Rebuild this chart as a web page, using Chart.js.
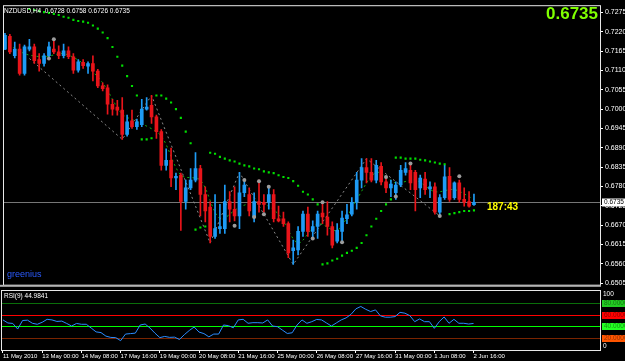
<!DOCTYPE html>
<html><head><meta charset="utf-8">
<script src="https://cdn.jsdelivr.net/npm/chart.js@4.4.1/dist/chart.umd.min.js"></script>
<style>
html,body{margin:0;padding:0;background:#000;overflow:hidden;}
#wrap{position:relative;width:625px;height:361px;background:#000;}
canvas{position:absolute;left:0;}
#main{top:0;}
#rsi{top:290px;}
</style></head><body>
<div id="wrap"><canvas id="main" width="625" height="291"></canvas><canvas id="rsi" width="625" height="71"></canvas></div>
<script>
const symbolTitle = "NZDUSD,H4  0.6728 0.6758 0.6726 0.6735";
const rsiTitle = "RSI(9) 44.9841";
const timerText = "187:43";
const signature = "greenius";
const timeTickBars = [0,8,16,24,32,40,48,56,64,72,80,88,96];
const timeLabels = ["11 May 2010","13 May 00:00","14 May 08:00","17 May 16:00","19 May 00:00","20 May 08:00","21 May 16:00","25 May 00:00","26 May 08:00","27 May 16:00","31 May 00:00","1 Jun 08:00","2 Jun 16:00"];
const priceTicks = [0.7275,0.7220,0.7165,0.7110,0.7055,0.7000,0.6945,0.6890,0.6835,0.6780,0.6725,0.6670,0.6615,0.6560,0.6505];

const opens = [0.7171,0.7207,0.7152,0.7171,0.7102,0.7171,0.7177,0.7141,0.7130,0.7152,
0.7171,0.7163,0.7152,0.7166,0.7149,0.7111,0.7133,0.7122,0.7130,0.7108,
0.7066,0.7061,0.7014,0.7006,0.6997,0.6928,0.6967,0.6950,0.6956,0.7000,
0.7011,0.6978,0.6936,0.6840,0.6854,0.6804,0.6812,0.6737,0.6776,0.6798,
0.6831,0.6757,0.6721,0.6638,0.6660,0.6660,0.6737,0.6715,0.6696,0.6762,
0.6757,0.6693,0.6737,0.6735,0.6735,0.6757,0.6688,0.6688,0.6674,0.6597,
0.6599,0.6652,0.6701,0.6652,0.6666,0.6704,0.6693,0.6666,0.6624,0.6652,
0.6688,0.6701,0.6735,0.6798,0.6834,0.6820,0.6798,0.6837,0.6793,0.6776,
0.6762,0.6784,0.6820,0.6826,0.6820,0.6776,0.6801,0.6773,0.6779,0.6707,
0.6748,0.6809,0.6748,0.6790,0.6743,0.6737,0.6728];
const highs = [0.7216,0.7213,0.7191,0.7185,0.7182,0.7199,0.7185,0.7158,0.7158,0.7191,
0.7193,0.7180,0.7185,0.7177,0.7158,0.7141,0.7141,0.7135,0.7152,0.7113,
0.7075,0.7069,0.7028,0.7025,0.7033,0.6983,0.6997,0.6972,0.7028,0.7033,
0.7039,0.6983,0.6942,0.6887,0.6889,0.6818,0.6818,0.6798,0.6831,0.6876,
0.6840,0.6779,0.6737,0.6757,0.6729,0.6784,0.6765,0.6779,0.6820,0.6798,
0.6776,0.6762,0.6798,0.6757,0.6779,0.6771,0.6724,0.6707,0.6679,0.6627,
0.6666,0.6710,0.6721,0.6682,0.6710,0.6729,0.6737,0.6679,0.6674,0.6710,
0.6729,0.6748,0.6820,0.6859,0.6859,0.6859,0.6854,0.6848,0.6807,0.6798,
0.6793,0.6840,0.6848,0.6840,0.6826,0.6812,0.6820,0.6793,0.6790,0.6757,
0.6840,0.6834,0.6793,0.6798,0.6776,0.6765,0.6758];
const lows = [0.7169,0.7158,0.7146,0.7097,0.7097,0.7166,0.7130,0.7108,0.7122,0.7146,
0.7158,0.7144,0.7146,0.7144,0.7102,0.7105,0.7116,0.7102,0.7080,0.7061,
0.7052,0.6986,0.6983,0.6983,0.6914,0.6923,0.6945,0.6942,0.6950,0.6997,
0.6959,0.6917,0.6826,0.6826,0.6779,0.6771,0.6655,0.6715,0.6771,0.6793,
0.6696,0.6679,0.6619,0.6632,0.6646,0.6646,0.6679,0.6682,0.6660,0.6751,
0.6696,0.6679,0.6707,0.6707,0.6715,0.6679,0.6679,0.6666,0.6577,0.6558,
0.6585,0.6638,0.6638,0.6632,0.6632,0.6674,0.6641,0.6605,0.6619,0.6624,
0.6674,0.6696,0.6715,0.6776,0.6790,0.6793,0.6790,0.6784,0.6762,0.6751,
0.6743,0.6779,0.6812,0.6771,0.6710,0.6748,0.6757,0.6748,0.6701,0.6696,
0.6743,0.6737,0.6743,0.6735,0.6724,0.6721,0.6726];
const closes = [0.7210,0.7163,0.7171,0.7102,0.7177,0.7177,0.7138,0.7130,0.7152,0.7177,
0.7163,0.7152,0.7166,0.7149,0.7111,0.7135,0.7124,0.7130,0.7108,0.7066,
0.7058,0.7014,0.7000,0.6997,0.6928,0.6964,0.6950,0.6964,0.7000,0.7006,
0.6978,0.6936,0.6840,0.6854,0.6804,0.6809,0.6737,0.6776,0.6798,0.6831,
0.6757,0.6710,0.6638,0.6660,0.6666,0.6737,0.6715,0.6696,0.6762,0.6784,
0.6710,0.6737,0.6729,0.6729,0.6757,0.6688,0.6682,0.6674,0.6591,0.6605,
0.6652,0.6701,0.6652,0.6666,0.6701,0.6693,0.6666,0.6613,0.6655,0.6690,
0.6699,0.6735,0.6798,0.6834,0.6820,0.6798,0.6840,0.6793,0.6776,0.6787,
0.6784,0.6826,0.6831,0.6790,0.6771,0.6804,0.6771,0.6779,0.6707,0.6748,
0.6807,0.6743,0.6790,0.6743,0.6735,0.6724,0.6735];

const sar = [null,null,null,null,null,0.7285,0.7282,0.7279,0.7276,0.7274,
0.7271,0.7268,0.7263,0.7260,0.7254,0.7251,0.7249,0.7246,0.7238,0.7229,
0.7218,0.7202,0.7177,0.7149,0.7124,0.7094,0.7066,0.7039,0.6914,0.6914,
0.6917,0.7039,0.7039,0.7030,0.7019,0.7000,0.6975,0.6936,0.6903,0.6657,
0.6663,0.6666,0.6876,0.6873,0.6864,0.6859,0.6854,0.6851,0.6845,0.6840,
0.6837,0.6831,0.6829,0.6823,0.6820,0.6818,0.6812,0.6807,0.6804,0.6795,
0.6782,0.6765,0.6757,0.6743,0.6729,0.6558,0.6561,0.6569,0.6574,0.6583,
0.6591,0.6597,0.6605,0.6619,0.6641,0.6666,0.6688,0.6710,0.6729,0.6743,
0.6862,0.6862,0.6859,0.6859,0.6859,0.6856,0.6854,0.6851,0.6848,0.6845,
0.6843,0.6701,0.6704,0.6707,0.6710,0.6710,0.6712];

const maBars = [0,4,8,12,16,20,24,28,32,36,40,44,48,52,56,60,64,68,72,76,80,84,88,92,96];
const maValues = [0.7191,0.7158,0.7149,0.7158,0.7130,0.7075,0.6986,0.6959,0.6923,0.6812,0.6798,0.6688,0.6721,0.6735,0.6701,0.6619,0.6674,0.6655,0.6743,0.6820,0.6790,0.6798,0.6765,0.6771,0.6743];

const zigzagBars = [5,24,30,42,48,59,74,89];
const zigzagPrices = [0.7144,0.6914,0.7039,0.6619,0.6820,0.6558,0.6859,0.6696];

const fractalBars = [9,10,47,49,51,52,53,54,63,65,69,78,80,83,89,93];
const fractalPrices = [0.7144,0.7199,0.6668,0.6798,0.6693,0.6795,0.6701,0.6779,0.6632,0.6735,0.6621,0.6807,0.6751,0.6845,0.6696,0.6809];

const rsi = [51,45.8,45,35.5,50,50.6,45.3,43.6,47,52,
51,48.4,49,45,40.6,45,43.6,43.6,37.2,30.7,
29.5,23.5,21.3,21,15.8,27,27.8,28.6,42.4,44,
37.2,28.6,21,23,21.4,21.8,17.8,26,33,39,
30.4,27.8,22.3,27,27,42.4,41.2,37.7,51,52,
45.3,46.3,46.3,45.8,51,40.6,39.5,33.8,28,29.2,
42.4,51,45.3,48,51.8,51,45.8,40.6,45.8,51,
54.4,60.4,69.8,73.8,69,65.2,68,57.8,55.6,55.6,
56.6,63.8,62.4,58.3,48,52.7,48,48,36.7,48,
56,45.3,52,45.3,45.3,44,44.9841];
const rsiLevels = [80,60,40,20];
const rsiLevelLine = ['#0a6e0a','#ff0000','#00ff00','#7a2400'];
const rsiLevelBox = ['#22cc22','#ff0000','#22ff22','#ff5500'];

const BULL = '#1e9bf5', BEAR = '#e8141a';
const FONT = '"Liberation Sans", Arial, sans-serif';
Chart.defaults.font.family = FONT;

const idx = closes.map((_, i) => i);
const isBull = i => closes[i] >= opens[i];
const lastClose = closes[closes.length - 1];
const lastBar = closes.length - 1;

const mainDecor = {
  id: 'mainDecor',
  beforeDraw(chart) {
    const c = chart.ctx; c.save(); c.fillStyle = '#000'; c.fillRect(0, 0, chart.width, chart.height); c.restore();
  },
  beforeDatasetsDraw(chart) {
    const {ctx, chartArea: a, scales: {y}} = chart;
    const py = Math.round(y.getPixelForValue(lastClose)) + 0.5;
    ctx.save(); ctx.strokeStyle = '#767676'; ctx.lineWidth = 1;
    ctx.beginPath(); ctx.moveTo(a.left, py); ctx.lineTo(a.right, py); ctx.stroke(); ctx.restore();
  },
  afterDraw(chart) {
    const {ctx, chartArea: a, scales: {x, y}} = chart;
    const py = Math.round(y.getPixelForValue(lastClose)) + 0.5;
    ctx.save();
    ctx.strokeStyle = '#e8e8e8'; ctx.lineWidth = 1;
    ctx.strokeRect(a.left - 0.5, a.top - 0.5, a.right - a.left + 1, a.bottom - a.top + 1);
    ctx.fillStyle = '#b4b4b4'; ctx.fillRect(0, a.bottom, a.right + 1, 2);
    ctx.fillStyle = '#ffffff'; ctx.font = '6.5px ' + FONT; ctx.textBaseline = 'middle'; ctx.textAlign = 'left';
    ctx.fillText(symbolTitle, 4, a.top + 5);
    ctx.fillStyle = '#7fff00'; ctx.font = 'bold 17px ' + FONT; ctx.textAlign = 'right'; ctx.textBaseline = 'alphabetic';
    ctx.fillText(lastClose.toFixed(4), a.right - 2, 19);
    ctx.fillStyle = '#ffff00'; ctx.font = 'bold 10px ' + FONT; ctx.textAlign = 'left'; ctx.textBaseline = 'middle';
    ctx.fillText(timerText, x.getPixelForValue(lastBar) + 13, py + 4.5);
    ctx.fillStyle = '#2b5bff'; ctx.font = '9px ' + FONT; ctx.textBaseline = 'alphabetic';
    ctx.fillText(signature, a.left + 3, a.bottom - 8);
    ctx.fillStyle = '#ffffff'; ctx.fillRect(a.right + 2, py - 4, 23, 8);
    ctx.fillStyle = '#000000'; ctx.font = '6.5px ' + FONT; ctx.textBaseline = 'middle';
    ctx.fillText(lastClose.toFixed(4), a.right + 4, py);
    ctx.restore();
  }
};

new Chart(document.getElementById('main'), {
  type: 'bar',
  data: {
    datasets: [
      { type: 'line', data: zigzagBars.map((b, k) => ({x: b, y: zigzagPrices[k]})), borderColor: '#8a8a8a', borderWidth: 1, borderDash: [2, 3], pointRadius: 0, order: 6 },
      { type: 'line', data: maBars.map((b, k) => ({x: b, y: maValues[k]})), borderColor: '#12b012', borderWidth: 1, borderDash: [2, 3], pointRadius: 0, tension: 0.3, order: 5 },
      { type: 'bar', data: idx.map(i => ({x: i, y: [lows[i], highs[i]]})), grouped: false, barThickness: 1, backgroundColor: ctx => isBull(ctx.dataIndex) ? BULL : BEAR, borderWidth: 0, order: 4 },
      { type: 'bar', data: idx.map(i => ({x: i, y: [Math.min(opens[i], closes[i]), Math.max(opens[i], closes[i])]})), grouped: false, barThickness: 3, minBarLength: 1, backgroundColor: ctx => isBull(ctx.dataIndex) ? BULL : BEAR, borderWidth: 0, order: 3 },
      { type: 'line', data: fractalBars.map((b, k) => ({x: b, y: fractalPrices[k]})), showLine: false, pointRadius: 2, pointBackgroundColor: '#9c9c9c', pointBorderWidth: 0, order: 2 },
      { type: 'line', data: idx.map(i => ({x: i, y: sar[i]})), showLine: false, pointStyle: 'rect', pointRadius: 1.5, pointBackgroundColor: '#00e000', pointBorderWidth: 0, order: 1 }
    ]
  },
  options: {
    responsive: false, animation: false, devicePixelRatio: 1,
    layout: { padding: { left: 2, right: 0, top: 1, bottom: 3 } },
    plugins: { legend: { display: false }, tooltip: { enabled: false } },
    scales: {
      x: { type: 'linear', min: -0.2, max: 121.8, display: false, offset: false },
      y: { position: 'right', min: 0.6500, max: 0.7293,
        afterBuildTicks: s => { s.ticks = priceTicks.map(v => ({value: v})); },
        afterFit: s => { s.width = 25; },
        ticks: { color: '#ffffff', font: { size: 7 }, padding: 2, autoSkip: false, callback: v => Number(v).toFixed(4) },
        grid: { drawOnChartArea: false, drawTicks: true, tickLength: 3, color: '#ffffff' },
        border: { display: false } }
    }
  },
  plugins: [mainDecor]
});

const rsiDecor = {
  id: 'rsiDecor',
  beforeDraw(chart) {
    const c = chart.ctx; c.save(); c.fillStyle = '#000'; c.fillRect(0, 0, chart.width, chart.height); c.restore();
  },
  beforeDatasetsDraw(chart) {
    const {ctx, chartArea: a, scales: {y}} = chart;
    ctx.save(); ctx.lineWidth = 1;
    rsiLevels.forEach((lv, k) => {
      const py = Math.round(y.getPixelForValue(lv)) + 0.5;
      ctx.strokeStyle = rsiLevelLine[k];
      ctx.beginPath(); ctx.moveTo(a.left, py); ctx.lineTo(a.right, py); ctx.stroke();
    });
    ctx.restore();
  },
  afterDraw(chart) {
    const {ctx, chartArea: a, scales: {y}} = chart;
    ctx.save();
    ctx.strokeStyle = '#e8e8e8'; ctx.lineWidth = 1;
    ctx.strokeRect(a.left - 0.5, a.top - 0.5, a.right - a.left + 1, a.bottom - a.top + 1);
    ctx.fillStyle = '#ffffff'; ctx.font = '6.5px ' + FONT; ctx.textBaseline = 'middle'; ctx.textAlign = 'left';
    ctx.fillText(rsiTitle, 4, a.top + 5);
    ctx.fillText('100', a.right + 3, y.getPixelForValue(100) + 3.5);
    ctx.fillText('0', a.right + 3, y.getPixelForValue(0) - 4);
    rsiLevels.forEach((lv, k) => {
      const py = Math.round(y.getPixelForValue(lv));
      ctx.fillStyle = rsiLevelBox[k]; ctx.fillRect(a.right + 2, py - 3, 23, 7);
      ctx.fillStyle = 'rgba(0,0,0,0.45)'; ctx.fillText(lv.toFixed(4), a.right + 4, py + 0.5);
    });
    ctx.restore();
  }
};

new Chart(document.getElementById('rsi'), {
  type: 'line',
  data: { datasets: [ { data: idx.map(i => ({x: i, y: rsi[i]})), borderColor: '#2a8cff', borderWidth: 1, pointRadius: 0, tension: 0 } ] },
  options: {
    responsive: false, animation: false, devicePixelRatio: 1,
    layout: { padding: { left: 2, right: 0, top: 1, bottom: 0 } },
    plugins: { legend: { display: false }, tooltip: { enabled: false } },
    scales: {
      x: { type: 'linear', min: -0.2, max: 121.8, offset: false,
        afterBuildTicks: s => { s.ticks = timeTickBars.map(v => ({value: v})); },
        afterFit: s => { s.height = 11; },
        ticks: { color: '#ffffff', font: { size: 6 }, align: 'start', padding: 0, autoSkip: false, maxRotation: 0, callback: (v, k) => timeLabels[k] },
        grid: { drawOnChartArea: false, drawTicks: true, tickLength: 3, color: '#ffffff' },
        border: { display: false } },
      y: { position: 'right', min: 0, max: 100,
        afterFit: s => { s.width = 25; },
        ticks: { display: false }, grid: { display: false }, border: { display: false } }
    }
  },
  plugins: [rsiDecor]
});
</script>
</body></html>
